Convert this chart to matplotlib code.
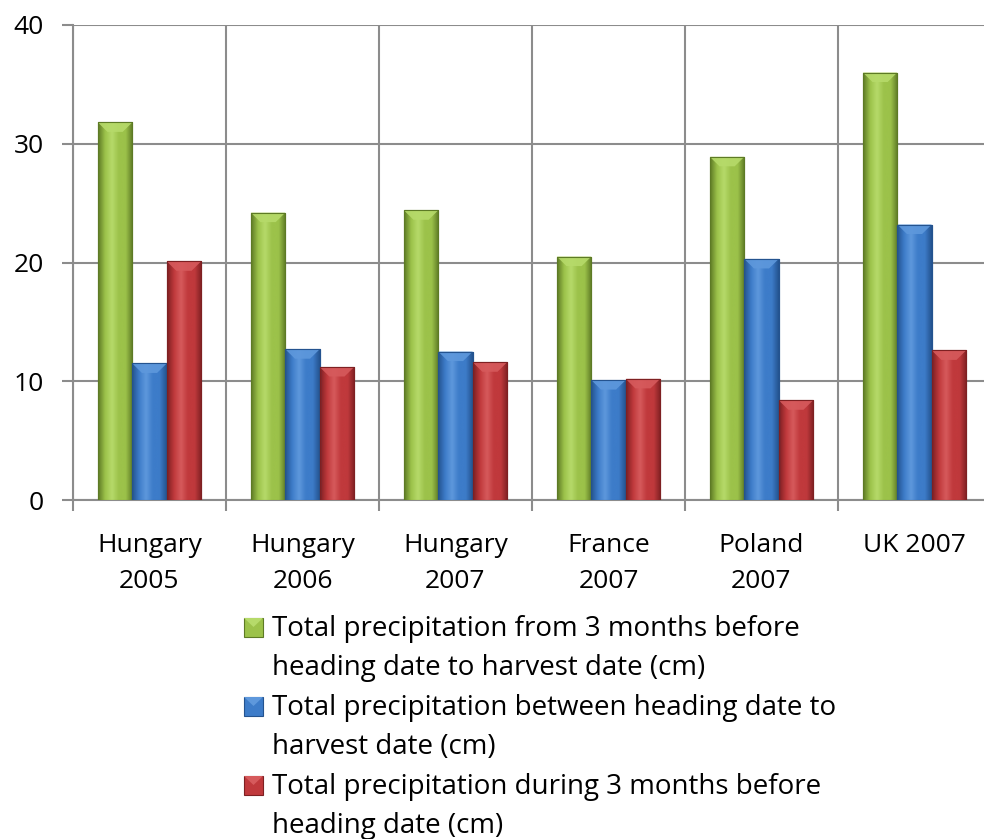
import numpy as np
import matplotlib.pyplot as plt
from matplotlib.colors import LinearSegmentedColormap
from matplotlib.patches import Rectangle, Polygon

# Data
categories = ['Hungary\n2005', 'Hungary\n2006', 'Hungary\n2007',
              'France\n2007', 'Poland\n2007', 'UK 2007']
precip_3m_to_harvest = [31.8, 24.2, 24.4, 20.5, 28.9, 36.0]
precip_heading_to_harvest = [11.5, 12.7, 12.5, 10.1, 20.3, 23.2]
precip_3m_before_heading = [20.1, 11.2, 11.6, 10.2, 8.4, 12.6]

series_labels = [
    ['Total precipitation from 3 months before', 'heading date to harvest date (cm)'],
    ['Total precipitation between heading date to', 'harvest date (cm)'],
    ['Total precipitation during 3 months before', 'heading date (cm)'],
]
series = [precip_3m_to_harvest, precip_heading_to_harvest, precip_3m_before_heading]

# (dark edge, base, light highlight)
palettes = [
    ('#5d7a25', '#9cc24a', '#b6da6a'),
    ('#24538f', '#3d7cc9', '#5e98dc'),
    ('#7e2022', '#c0393c', '#d65a5c'),
]

plt.rcParams['font.family'] = ['Open Sans', 'DejaVu Sans']
W, H = 984, 839
fig = plt.figure(figsize=(W / 100, H / 100), dpi=100)

ax_l, ax_r, ax_t, ax_b = 73, 991, 25, 500
ax = fig.add_axes([ax_l / W, 1 - ax_b / H, (ax_r - ax_l) / W, (ax_b - ax_t) / H])

x = np.arange(len(categories))
bar_w = 0.225
grid_col = '#8c8c8c'
fs = 19


def shaded_bar(ax, patch, pal):
    x0, y0 = patch.get_x(), patch.get_y()
    w, h = patch.get_width(), patch.get_height()
    cmap = LinearSegmentedColormap.from_list(
        'g', [pal[0], pal[1], pal[2], pal[1], pal[1], pal[0]])
    grad = np.linspace(0, 1, 64).reshape(1, -1)
    im = ax.imshow(grad, cmap=cmap, extent=[x0, x0 + w, y0, y0 + h],
                   aspect='auto', zorder=3, interpolation='bicubic')
    im.set_clip_path(patch)
    # top bevel
    bev = 0.8
    ax.add_patch(Polygon([[x0, y0 + h], [x0 + w, y0 + h],
                          [x0 + w * 0.72, y0 + h - bev], [x0 + w * 0.28, y0 + h - bev]],
                         closed=True, facecolor=pal[2], edgecolor='none',
                         alpha=0.9, zorder=4))


for i, (vals, pal) in enumerate(zip(series, palettes)):
    bars = ax.bar(x + (i - 1) * bar_w, vals, width=bar_w, color=pal[1],
                  edgecolor=pal[0], linewidth=0.8, zorder=3)
    for p in bars:
        shaded_bar(ax, p, pal)
    # outline on top of the gradient
    ax.bar(x + (i - 1) * bar_w, vals, width=bar_w, facecolor='none',
           edgecolor=pal[0], linewidth=0.8, zorder=5)

ax.set_xlim(-0.5, len(categories) - 0.5)
ax.set_ylim(0, 40)
ax.set_yticks([0, 10, 20, 30, 40])

ax.set_xticks(x)
ax.set_xticklabels(categories, fontsize=fs, linespacing=1.55)
ax.set_xticks(np.arange(-0.5, len(categories), 1.0), minor=True)
ax.tick_params(axis='x', which='major', length=0, pad=24)
ax.tick_params(axis='x', which='minor', length=8, width=1.5, color=grid_col, direction='out')
ax.tick_params(axis='y', labelsize=fs, length=8, width=1.5, color=grid_col, pad=13)

ax.grid(axis='y', color=grid_col, linewidth=1.5, zorder=0)
ax.grid(axis='x', which='minor', color=grid_col, linewidth=1.5, zorder=0)
ax.set_axisbelow(True)
for s in ['top', 'right']:
    ax.spines[s].set_visible(False)
for s in ['left', 'bottom']:
    ax.spines[s].set_color(grid_col)
    ax.spines[s].set_linewidth(1.5)

# Legend drawn by hand (marker beside first line of each wrapped label)
entry_base = [636, 715, 794]
line_gap = 39
sq = 19
for lines, pal, yb in zip(series_labels, palettes, entry_base):
    top = yb - 18
    fig.patches.append(Rectangle((244 / W, 1 - (top + sq) / H), sq / W, sq / H,
                                 transform=fig.transFigure, facecolor=pal[1],
                                 edgecolor=pal[0], linewidth=0.8))
    fig.patches.append(Polygon([[244 / W, 1 - top / H], [(244 + sq) / W, 1 - top / H],
                                [(244 + sq / 2) / W, 1 - (top + 9) / H]],
                               transform=fig.transFigure, facecolor=pal[2],
                               edgecolor='none'))
    for k, line in enumerate(lines):
        fig.text(272 / W, 1 - (yb + k * line_gap) / H, line, fontsize=20,
                 va='baseline', ha='left', transform=fig.transFigure)

fig.savefig('out.png', dpi=100)
